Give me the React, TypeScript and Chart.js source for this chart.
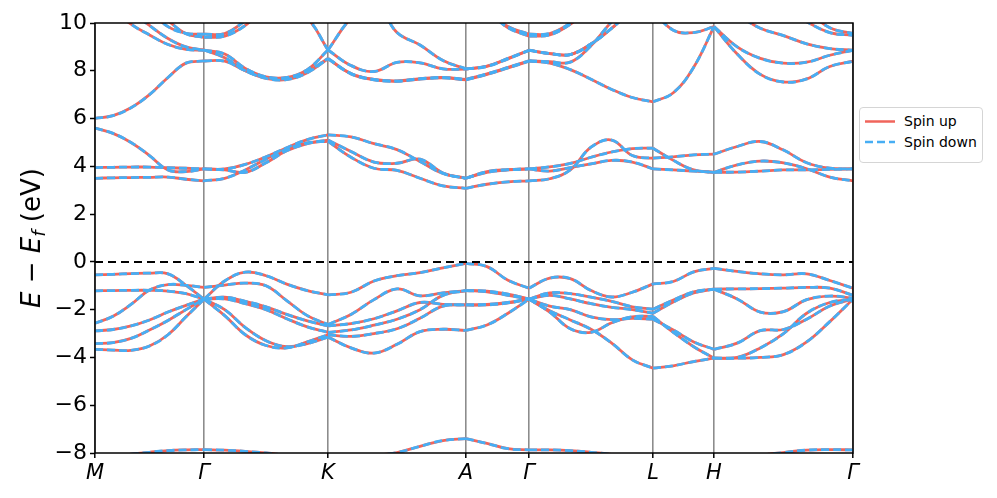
import React, { useEffect, useRef } from "react";
import { Chart, registerables } from "chart.js";

Chart.register(...registerables);

// k-path coordinate of every sample (arbitrary reciprocal-length units)
const kPath = [
  0, 0.18, 0.36, 0.545, 0.73, 0.91, 1.09,
  1.297, 1.503, 1.71, 1.917, 2.123, 2.33,
  2.56, 2.79, 3.02, 3.25, 3.48, 3.71,
  3.92, 4.13, 4.34,
  4.547, 4.753, 4.96, 5.167, 5.373, 5.58,
  5.783, 5.987, 6.19,
  6.422, 6.653, 6.885, 7.117, 7.348, 7.58,
];
const kTickPositions = [0, 1.09, 2.33, 3.71, 4.34, 5.58, 6.19, 7.58];
const kTickLabels = ["M", "Γ", "K", "A", "Γ", "L", "H", "Γ"];
const segmentEnds = [0, 6, 12, 18, 21, 27, 30, 36];
const energyTicks = [-8, -6, -4, -2, 0, 2, 4, 6, 8, 10];

// bands (eV), one value per kPath sample
const bandDeep = [-8.25, -8.15, -8.05, -7.97, -7.9, -7.87, -7.86, -7.88, -7.93, -8.0, -8.1, -8.2, -8.25, -8.2, -8.1, -7.98, -7.72, -7.48, -7.4, -7.6, -7.82, -7.87, -7.87, -7.9, -7.97, -8.06, -8.2, -8.3, -8.35, -8.4, -8.4, -8.3, -8.1, -7.98, -7.88, -7.86, -7.87];
const bandV1 = [-0.54, -0.52, -0.49, -0.47, -0.5, -0.98, -1.56, -0.8, -0.43, -0.58, -0.93, -1.2, -1.38, -1.27, -0.8, -0.58, -0.45, -0.25, -0.06, -0.2, -0.77, -1.1, -0.68, -0.7, -1.2, -1.47, -1.27, -0.92, -0.82, -0.42, -0.27, -0.4, -0.5, -0.54, -0.5, -0.78, -1.1];
const bandV2 = [-1.21, -1.2, -1.19, -1.19, -1.22, -1.33, -1.56, -1.48, -1.65, -1.88, -2.2, -2.47, -2.68, -2.58, -2.38, -2.05, -1.7, -1.78, -1.8, -1.78, -1.7, -1.56, -1.3, -1.33, -1.48, -1.65, -1.88, -1.98, -1.6, -1.25, -1.14, -1.13, -1.12, -1.1, -1.07, -1.1, -1.4];
const bandV3 = [-2.57, -2.28, -1.78, -1.18, -0.95, -0.98, -1.07, -0.97, -0.89, -1.0, -1.62, -2.25, -2.62, -2.2, -1.58, -1.13, -1.42, -1.3, -1.2, -1.25, -1.4, -1.56, -1.4, -1.55, -1.75, -1.9, -2.0, -2.15, -1.68, -1.3, -1.14, -1.55, -2.1, -2.08, -1.58, -1.43, -1.52];
const bandV4 = [-2.89, -2.83, -2.68, -2.43, -2.1, -1.82, -1.56, -1.55, -1.75, -2.0, -2.38, -2.72, -2.95, -2.85, -2.65, -2.4, -2.0, -1.4, -1.2, -1.22, -1.35, -1.56, -1.85, -2.0, -2.3, -2.42, -2.36, -2.4, -2.85, -3.35, -3.66, -3.4, -2.88, -2.83, -2.4, -1.85, -1.56];
const bandV5 = [-3.42, -3.38, -3.2, -2.85, -2.45, -2.0, -1.56, -2.0, -2.75, -3.3, -3.55, -3.42, -3.15, -3.6, -3.82, -3.45, -2.92, -2.82, -2.87, -2.64, -2.15, -1.56, -2.1, -2.8, -2.95, -2.55, -2.3, -2.28, -2.95, -3.55, -4.03, -4.0, -3.6, -3.0, -2.15, -1.7, -1.56];
const bandV6 = [-3.66, -3.69, -3.7, -3.52, -3.05, -2.3, -1.56, -2.25, -3.05, -3.5, -3.6, -3.35, -3.05, -3.12, -3.0, -2.8, -2.36, -1.85, -1.8, -1.8, -1.72, -1.56, -2.05, -2.43, -2.82, -3.4, -4.1, -4.45, -4.35, -4.17, -4.03, -4.03, -4.0, -3.88, -3.35, -2.5, -1.56];
const bandC1 = [5.6, 5.38, 5.0, 4.45, 3.85, 3.78, 3.89, 3.89, 4.08, 4.4, 4.78, 5.12, 5.32, 5.23, 4.95, 4.7, 4.2, 3.7, 3.5, 3.75, 3.85, 3.89, 3.98, 4.12, 4.38, 4.6, 4.74, 4.76, 4.25, 3.85, 3.75, 4.06, 4.22, 4.14, 3.9, 3.55, 3.39];
const bandC2 = [3.95, 3.96, 3.97, 3.97, 3.94, 3.92, 3.89, 3.85, 3.75, 4.15, 4.65, 4.95, 5.1, 4.62, 4.18, 4.13, 4.3, 3.72, 3.5, 3.78, 3.86, 3.89, 3.8, 3.95, 4.1, 4.25, 4.18, 3.89, 3.85, 3.8, 3.75, 3.76, 3.8, 3.85, 3.85, 3.87, 3.89];
const bandC3 = [3.5, 3.52, 3.53, 3.54, 3.55, 3.46, 3.39, 3.5, 3.85, 4.3, 4.72, 4.98, 5.05, 4.38, 3.92, 3.83, 3.5, 3.18, 3.08, 3.25, 3.35, 3.39, 3.48, 3.85, 4.8, 5.1, 4.45, 4.34, 4.4, 4.48, 4.51, 4.83, 5.04, 4.68, 4.15, 3.92, 3.89];
const bandC4 = [6.01, 6.12, 6.45, 7.0, 7.72, 8.32, 8.41, 8.4, 8.0, 7.68, 7.63, 7.92, 8.5, 7.87, 7.62, 7.56, 7.65, 7.7, 7.62, 7.85, 8.12, 8.4, 8.32, 8.05, 7.65, 7.22, 6.88, 6.7, 7.08, 8.15, 9.85, 8.7, 7.85, 7.53, 7.66, 8.18, 8.4];
const bandC5 = [11.2, 10.6, 9.95, 9.5, 9.1, 8.9, 8.86, 8.7, 8.1, 7.75, 7.72, 8.05, 8.87, 10.2, 10.9, 9.6, 9.08, 8.43, 8.08, 8.2, 8.52, 8.86, 8.72, 8.68, 9.12, 9.78, 10.5, 10.5, 9.7, 9.6, 9.85, 9.0, 8.52, 8.32, 8.36, 8.65, 8.86];
const bandC6 = [11.8, 11.2, 10.5, 9.9, 9.35, 9.0, 8.87, 8.55, 8.0, 7.72, 7.68, 7.98, 8.52, 7.89, 7.64, 7.58, 7.67, 7.72, 7.64, 7.87, 8.14, 8.42, 8.38, 8.36, 9.05, 10.05, 10.8, 11.2, 11.3, 11.2, 10.9, 10.35, 9.78, 9.47, 9.13, 8.93, 8.86];
const bandC7 = [12.5, 12.4, 12.3, 12.2, 12.1, 12.0, 11.9, 11.8, 11.5, 11.0, 10.6, 10.2, 8.87, 8.22, 7.97, 8.35, 8.33, 8.08, 8.07, 8.18, 8.5, 8.85, 8.72, 8.68, 9.12, 9.78, 10.5, 11.0, 11.3, 11.5, 11.5, 11.3, 11.0, 10.6, 10.05, 9.6, 9.48];
const bandC8 = [12.0, 11.6, 11.0, 10.5, 9.85, 9.57, 9.53, 9.56, 10.1, 10.8, 11.3, 11.6, 11.5, 11.3, 11.2, 11.0, 10.9, 10.8, 10.7, 10.5, 9.85, 9.53, 9.56, 10.0, 10.7, 11.2, 11.5, 11.6, 11.7, 11.7, 11.6, 11.5, 11.3, 11.0, 10.5, 9.8, 9.56];
const bandC9 = [12.2, 11.8, 11.2, 10.7, 10.1, 9.55, 9.4, 9.45, 9.9, 10.7, 11.2, 11.5, 11.4, 11.2, 11.0, 10.9, 10.8, 10.7, 10.6, 10.45, 9.8, 9.45, 9.5, 9.95, 10.6, 11.1, 11.4, 11.5, 11.6, 11.6, 11.5, 11.4, 11.2, 11.0, 10.8, 10.6, 10.5];

const allBands = [bandDeep, bandV1, bandV2, bandV3, bandV4, bandV5, bandV6, bandC1, bandC2, bandC3, bandC4, bandC5, bandC6, bandC7, bandC8, bandC9];

const spinUpColor = "#f0655b";
const spinDownColor = "#47aef4";
const FONT = "'DejaVu Sans', sans-serif";

function branches(band: number[]) {
  const out: { x: number; y: number }[][] = [];
  for (let s = 0; s < segmentEnds.length - 1; s++) {
    const pts: { x: number; y: number }[] = [];
    for (let i = segmentEnds[s]; i <= segmentEnds[s + 1]; i++) pts.push({ x: kPath[i], y: band[i] });
    out.push(pts);
  }
  return out;
}

const framePlugin = {
  id: "frame",
  afterDatasetsDraw(chart: any) {
    const { ctx, chartArea } = chart;
    ctx.save();
    ctx.strokeStyle = "#000";
    ctx.lineWidth = 1.5;
    ctx.strokeRect(chartArea.left, chartArea.top, chartArea.right - chartArea.left, chartArea.bottom - chartArea.top);
    ctx.restore();
  },
};

export default function App() {
  const ref = useRef<HTMLCanvasElement>(null);

  useEffect(() => {
    const datasets: any[] = [];
    datasets.push({
      label: "Fermi",
      data: [{ x: kTickPositions[0], y: 0 }, { x: kTickPositions[kTickPositions.length - 1], y: 0 }],
      borderColor: "#000",
      borderWidth: 2,
      borderDash: [8, 5],
      pointRadius: 0,
      tension: 0,
      order: 0,
      clip: 0,
    });
    const spins = [
      { label: "Spin up", color: spinUpColor, dash: [] as number[], order: 2 },
      { label: "Spin down", color: spinDownColor, dash: [8, 4], order: 1 },
    ];
    for (const sp of spins) {
      for (const band of allBands) {
        for (const seg of branches(band)) {
          datasets.push({
            label: sp.label,
            data: seg,
            borderColor: sp.color,
            borderWidth: 2.8,
            borderDash: sp.dash,
            pointRadius: 0,
            tension: 0.4,
            order: sp.order,
            clip: 0,
          });
        }
      }
    }

    const chart = new Chart(ref.current!, {
      type: "line",
      data: { datasets },
      options: {
        animation: false,
        responsive: false,
        devicePixelRatio: 1,
        events: [],
        layout: { padding: { left: 0, right: 144, top: 23, bottom: 0 } },
        elements: { line: { capBezierPoints: false }, point: { radius: 0 } },
        plugins: { legend: { display: false }, tooltip: { enabled: false } },
        scales: {
          x: {
            type: "linear",
            min: kTickPositions[0],
            max: kTickPositions[kTickPositions.length - 1],
            afterBuildTicks: (scale: any) => {
              scale.ticks = kTickPositions.map((v) => ({ value: v }));
            },
            afterFit: (scale: any) => {
              scale.height = 45;
            },
            ticks: {
              autoSkip: false,
              maxRotation: 0,
              padding: 3,
              color: "#000",
              font: { family: FONT, size: 21, style: "italic" },
              callback: (_v: any, i: number) => kTickLabels[i],
            },
            grid: { color: "rgba(0,0,0,0.45)", lineWidth: 1.6, tickColor: "#000", tickLength: 5, tickWidth: 1.5 },
            border: { display: false },
          },
          y: {
            type: "linear",
            min: -8,
            max: 10,
            afterBuildTicks: (scale: any) => {
              scale.ticks = energyTicks.map((v) => ({ value: v }));
            },
            afterFit: (scale: any) => {
              scale.width = 95;
            },
            ticks: {
              padding: 3,
              color: "#000",
              font: { family: FONT, size: 22 },
              callback: (v: any) => (v < 0 ? "\u2212" + Math.abs(v) : String(v)),
            },
            grid: { drawOnChartArea: false, tickColor: "#000", tickLength: 5, tickWidth: 1.5 },
            border: { display: false },
          },
        },
      } as any,
      plugins: [framePlugin],
    });
    return () => chart.destroy();
  }, []);

  return (
    <div style={{ position: "fixed", left: 0, top: 0, width: 997, height: 498, background: "#fff", fontFamily: FONT, color: "#000" }}>
      <canvas ref={ref} width={997} height={498} style={{ position: "absolute", left: 0, top: 0, width: 997, height: 498 }} />
      <div
        style={{
          position: "absolute",
          left: 31,
          top: 238,
          transform: "translate(-50%, -50%) rotate(-90deg)",
          fontSize: 26,
          whiteSpace: "nowrap",
          lineHeight: 1,
        }}
      >
        <i>E</i> − <i>E</i>
        <sub style={{ fontSize: "0.7em", fontStyle: "italic", verticalAlign: "-0.25em", lineHeight: 0 }}>f</sub> (eV)
      </div>
      <div
        style={{
          position: "absolute",
          left: 859,
          top: 107,
          width: 124,
          height: 56,
          border: "1px solid #d5d5d5",
          borderRadius: 4,
          background: "#fff",
          boxSizing: "border-box",
        }}
      >
        <svg style={{ position: "absolute", left: 0, top: 0 }} width={40} height={54}>
          <line x1={5} y1={13.5} x2={35} y2={13.5} stroke={spinUpColor} strokeWidth={2.5} />
          <line x1={5} y1={34} x2={35} y2={34} stroke={spinDownColor} strokeWidth={2.5} strokeDasharray="8 4" />
        </svg>
        <span style={{ position: "absolute", left: 44, top: 4, fontSize: 14, lineHeight: "18px", whiteSpace: "nowrap" }}>Spin up</span>
        <span style={{ position: "absolute", left: 44, top: 25, fontSize: 14, lineHeight: "18px", whiteSpace: "nowrap" }}>Spin down</span>
      </div>
    </div>
  );
}
